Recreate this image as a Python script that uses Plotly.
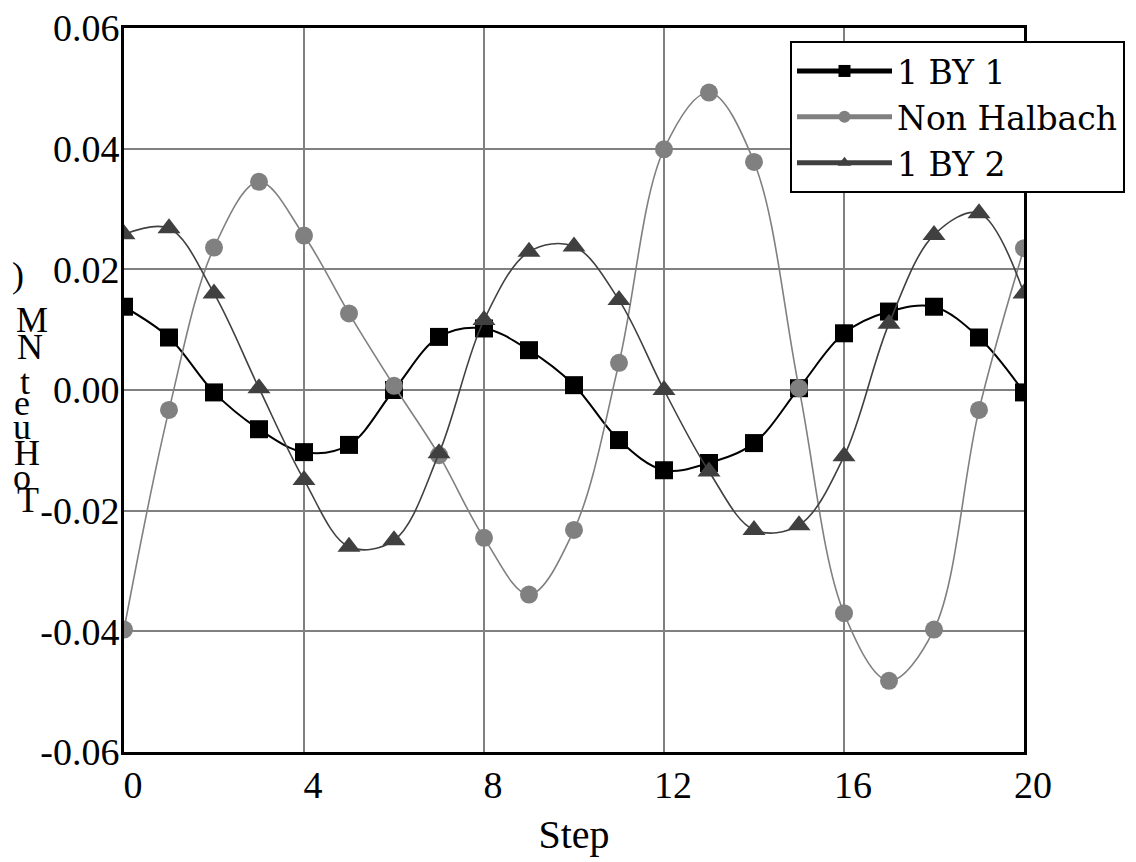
import plotly.graph_objects as go

steps = list(range(21))
by1 = [0.0138, 0.0087, -0.0004, -0.0065, -0.0103, -0.0091, 0.0000, 0.0088, 0.0102, 0.0066,
       0.0008, -0.0083, -0.0133, -0.0121, -0.0088, 0.0003, 0.0094, 0.0130, 0.0138, 0.0087, -0.0004]
non_halbach = [-0.0397, -0.0033, 0.0236, 0.0345, 0.0256, 0.0127, 0.0007, -0.0108, -0.0245, -0.0339,
               -0.0232, 0.0045, 0.0399, 0.0493, 0.0378, 0.0003, -0.0370, -0.0482, -0.0397, -0.0033, 0.0235]
by2 = [0.0258, 0.0268, 0.0160, 0.0003, -0.0149, -0.0260, -0.0249, -0.0105, 0.0116, 0.0229,
       0.0238, 0.0149, 0.0000, -0.0135, -0.0232, -0.0224, -0.0110, 0.0110, 0.0257, 0.0293, 0.0160]

x_ticks = [0, 4, 8, 12, 16, 20]
y_ticks = [-0.06, -0.04, -0.02, 0.0, 0.02, 0.04, 0.06]
y_tick_labels = ["-0.06", "-0.04", "-0.02", "0.00", "0.02", "0.04", "0.06"]
y_title_chars = [")", "M", "N", "t", "e", "u", "H", "o", "T"]
y_title_pos = [(18, 275), (32, 320), (30, 347), (25, 382), (22, 403), (22, 427), (27, 453), (22, 477), (28, 500)]

W, H = 1136, 862
OFF = 8  # page body margin
L, R, T, B = 124, 1024, 28, 752  # target plot area in page pixels

fig = go.Figure()
fig.add_trace(go.Scatter(x=steps, y=by1, name="1 BY 1", mode="lines+markers",
                         line=dict(color="black", width=2, shape="spline"),
                         marker=dict(symbol="square", size=18, color="black")))
fig.add_trace(go.Scatter(x=steps, y=non_halbach, name="Non Halbach", mode="lines+markers",
                         line=dict(color="#808080", width=1.6, shape="spline"),
                         marker=dict(symbol="circle", size=18, color="#808080")))
fig.add_trace(go.Scatter(x=steps, y=by2, name="1 BY 2", mode="lines+markers",
                         line=dict(color="#404040", width=1.6, shape="spline"),
                         marker=dict(symbol="triangle-up", size=20, color="#404040")))

serif = "Liberation Serif"
annotations = []
for ch, (px, py) in zip(y_title_chars, y_title_pos):
    annotations.append(dict(text=ch, xref="paper", yref="paper",
                            x=(px - L) / (R - L), y=(B - py) / (B - T),
                            xanchor="center", yanchor="middle", showarrow=False,
                            font=dict(family=serif, size=36, color="black")))

fig.update_layout(
    width=W, height=H,
    margin=dict(l=L - OFF, r=W - (R - OFF), t=T - OFF, b=H - (B - OFF), pad=0, autoexpand=False),
    paper_bgcolor="white", plot_bgcolor="white",
    showlegend=True,
    legend=dict(x=(790 - L) / (R - L), y=(B - 41) / (B - T), xanchor="left", yanchor="top",
                bgcolor="white", bordercolor="black", borderwidth=2,
                font=dict(family="DejaVu Serif", size=33, color="black"),
                tracegroupgap=0, itemsizing="constant", itemwidth=95),
    annotations=annotations,
    xaxis=dict(range=[0, 20], tickvals=x_ticks, ticktext=[str(v) for v in x_ticks],
               showgrid=True, gridcolor="#808080", gridwidth=2,
               showline=True, linecolor="black", linewidth=3, mirror=True,
               ticks="", zeroline=False, automargin=False, ticklabeloverflow="allow",
               tickfont=dict(family=serif, size=38, color="black"),
               ticklabelshift=9, ticklabelstandoff=-3,
               title=dict(text="Step", font=dict(family=serif, size=40, color="black"), standoff=16)),
    yaxis=dict(range=[-0.06, 0.06], tickvals=y_ticks, ticktext=y_tick_labels,
               showgrid=True, gridcolor="#808080", gridwidth=2,
               showline=True, linecolor="black", linewidth=3, mirror=True,
               ticks="", zeroline=False, automargin=False, ticklabeloverflow="allow",
               tickfont=dict(family=serif, size=38, color="black"),
               ticklabelstandoff=-6),
)

fig.write_html("out.html")
